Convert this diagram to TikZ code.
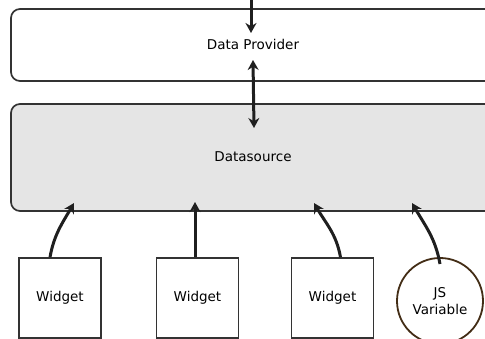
\documentclass[tikz,border=0pt]{standalone}
\usepackage{fontspec}
\setmainfont{DejaVu Sans}
\usetikzlibrary{arrows.meta}
\begin{document}
\begin{tikzpicture}[x=1pt,y=-1pt,
  lbl/.style={font=\fontsize{13.5}{16}\selectfont, text=black},
  bigbox/.style={draw=black!80, line width=1.7pt, rounded corners=9pt, inner sep=0pt},
  wbox/.style={draw=black!80, line width=1.5pt, minimum width=82pt, minimum height=80pt, inner sep=0pt},
  jscirc/.style={circle, draw=black!65!brown, line width=1.8pt, minimum size=86pt, inner sep=0pt, align=center},
  conn/.style={line width=3pt, draw=black!88, -{Stealth[length=10pt,width=11pt]}},
  conn2/.style={line width=3pt, draw=black!88, {Stealth[length=10pt,width=11pt]}-{Stealth[length=10pt,width=11pt]}}
]
\useasboundingbox (0,0) rectangle (485,339);
\begin{scope}
\clip (0,0) rectangle (485,339);
\node[bigbox, fill=white, minimum width=490pt, minimum height=72pt] (dp) at (256,45) {};
\node[lbl] (dpt) at (253,44) {Data Provider};
\node[bigbox, fill=black!10, minimum width=490pt, minimum height=107pt] (ds) at (256,157.5) {};
\node[lbl] (dst) at (253,157) {Datasource};
\node[wbox] (w1) at (60,298) {};
\node[lbl] at (w1.center) {Widget};
\node[wbox] (w2) at (197.5,298) {};
\node[lbl] at (w2.center) {Widget};
\node[wbox] (w3) at (332.5,298) {};
\node[lbl] at (w3.center) {Widget};
\node[jscirc, lbl] (js) at (440,301) {JS\\[1pt]Variable};
\coordinate (topin) at (251,-4);
\coordinate (topend) at (251,33);
\coordinate (mida) at (253,60);
\coordinate (midb) at (254,128);
\coordinate (e1) at (74,203);
\coordinate (e2) at (195,202);
\coordinate (e3) at (314,203);
\coordinate (e4) at (412,203);
\coordinate (s4) at (440,264);
\draw[conn] (topin) -- (topend);
\draw[conn2] (mida) -- (midb);
\draw[conn] ([xshift=-10pt]w1.north) to[out=80,in=240] (e1);
\draw[conn] (w2.north -| e2) -- (e2);
\draw[conn] ([xshift=8pt]w3.north) to[out=100,in=300] (e3);
\draw[conn] (s4) to[out=100,in=300] (e4);
\end{scope}
\end{tikzpicture}
\end{document}
